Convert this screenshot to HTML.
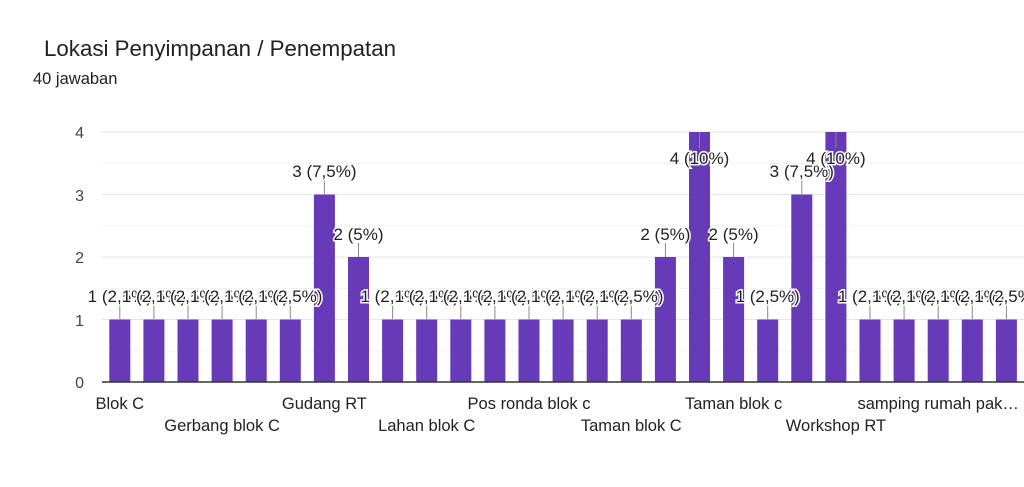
<!DOCTYPE html>
<html><head><meta charset="utf-8"><style>
html,body{margin:0;padding:0;background:#fff;width:1024px;height:487px;overflow:hidden}
svg text{font-family:"Liberation Sans",sans-serif}
.lb{font-size:17px;fill:#222;stroke:#fff;stroke-width:3px;paint-order:stroke;text-anchor:middle}
.xl{font-size:16.5px;fill:#222;text-anchor:middle}
.yl{font-size:16px;fill:#444;text-anchor:end}
</style></head><body>
<svg width="1024" height="487" xmlns="http://www.w3.org/2000/svg">
<text x="44" y="56" style="font-size:22.3px;fill:#202124">Lokasi Penyimpanan / Penempatan</text>
<text x="33" y="84" style="font-size:16.5px;fill:#202124">40 jawaban</text>
<g stroke="#f3f3f3" stroke-width="1">
<line x1="102" y1="163.5" x2="1024" y2="163.5"/><line x1="102" y1="226" x2="1024" y2="226"/><line x1="102" y1="288.5" x2="1024" y2="288.5"/><line x1="102" y1="351" x2="1024" y2="351"/>
</g>
<g stroke="#e6e6e6" stroke-width="1">
<line x1="102" y1="132" x2="1024" y2="132"/><line x1="102" y1="194.5" x2="1024" y2="194.5"/><line x1="102" y1="257" x2="1024" y2="257"/><line x1="102" y1="319.5" x2="1024" y2="319.5"/>
</g>
<g class="yl">
<text x="84" y="138">4</text><text x="84" y="201">3</text><text x="84" y="263">2</text><text x="84" y="326">1</text><text x="84" y="388">0</text>
</g>
<g fill="#673ab7">
<rect x="109.3" y="319.5" width="21" height="62.5"/>
<rect x="143.4" y="319.5" width="21" height="62.5"/>
<rect x="177.5" y="319.5" width="21" height="62.5"/>
<rect x="211.6" y="319.5" width="21" height="62.5"/>
<rect x="245.7" y="319.5" width="21" height="62.5"/>
<rect x="279.8" y="319.5" width="21" height="62.5"/>
<rect x="313.9" y="194.5" width="21" height="187.5"/>
<rect x="348" y="257" width="21" height="125"/>
<rect x="382.1" y="319.5" width="21" height="62.5"/>
<rect x="416.2" y="319.5" width="21" height="62.5"/>
<rect x="450.3" y="319.5" width="21" height="62.5"/>
<rect x="484.4" y="319.5" width="21" height="62.5"/>
<rect x="518.5" y="319.5" width="21" height="62.5"/>
<rect x="552.6" y="319.5" width="21" height="62.5"/>
<rect x="586.7" y="319.5" width="21" height="62.5"/>
<rect x="620.8" y="319.5" width="21" height="62.5"/>
<rect x="654.9" y="257" width="21" height="125"/>
<rect x="689" y="132" width="21" height="250"/>
<rect x="723.1" y="257" width="21" height="125"/>
<rect x="757.2" y="319.5" width="21" height="62.5"/>
<rect x="791.3" y="194.5" width="21" height="187.5"/>
<rect x="825.4" y="132" width="21" height="250"/>
<rect x="859.5" y="319.5" width="21" height="62.5"/>
<rect x="893.6" y="319.5" width="21" height="62.5"/>
<rect x="927.7" y="319.5" width="21" height="62.5"/>
<rect x="961.8" y="319.5" width="21" height="62.5"/>
<rect x="995.9" y="319.5" width="21" height="62.5"/>
</g>
<line x1="102" y1="382" x2="1024" y2="382" stroke="#333" stroke-width="1.5"/>
<g stroke="#888" stroke-width="1">
<line x1="119.8" y1="319" x2="119.8" y2="304"/><line x1="153.9" y1="319" x2="153.9" y2="304"/><line x1="188" y1="319" x2="188" y2="304"/><line x1="222.1" y1="319" x2="222.1" y2="304"/><line x1="256.2" y1="319" x2="256.2" y2="304"/><line x1="290.3" y1="319" x2="290.3" y2="304"/>
<line x1="324.4" y1="194" x2="324.4" y2="180"/><line x1="358.5" y1="257" x2="358.5" y2="243"/>
<line x1="392.6" y1="319" x2="392.6" y2="304"/><line x1="426.7" y1="319" x2="426.7" y2="304"/><line x1="460.8" y1="319" x2="460.8" y2="304"/><line x1="494.9" y1="319" x2="494.9" y2="304"/><line x1="529" y1="319" x2="529" y2="304"/><line x1="563.1" y1="319" x2="563.1" y2="304"/><line x1="597.2" y1="319" x2="597.2" y2="304"/><line x1="631.3" y1="319" x2="631.3" y2="304"/>
<line x1="665.4" y1="257" x2="665.4" y2="243"/><line x1="699.5" y1="132" x2="699.5" y2="148"/><line x1="733.6" y1="257" x2="733.6" y2="243"/><line x1="767.7" y1="319" x2="767.7" y2="304"/><line x1="801.8" y1="194" x2="801.8" y2="180"/><line x1="835.9" y1="132" x2="835.9" y2="148"/>
<line x1="870" y1="319" x2="870" y2="304"/><line x1="904.1" y1="319" x2="904.1" y2="304"/><line x1="938.2" y1="319" x2="938.2" y2="304"/><line x1="972.3" y1="319" x2="972.3" y2="304"/><line x1="1006.4" y1="319" x2="1006.4" y2="304"/>
</g>
<g class="lb">
<text x="119.8" y="302">1 (2,5%)</text><text x="153.9" y="302">1 (2,5%)</text><text x="188" y="302">1 (2,5%)</text><text x="222.1" y="302">1 (2,5%)</text><text x="256.2" y="302">1 (2,5%)</text><text x="290.3" y="302">1 (2,5%)</text>
<text x="324.4" y="177">3 (7,5%)</text><text x="358.5" y="240">2 (5%)</text>
<text x="392.6" y="302">1 (2,5%)</text><text x="426.7" y="302">1 (2,5%)</text><text x="460.8" y="302">1 (2,5%)</text><text x="494.9" y="302">1 (2,5%)</text><text x="529" y="302">1 (2,5%)</text><text x="563.1" y="302">1 (2,5%)</text><text x="597.2" y="302">1 (2,5%)</text><text x="631.3" y="302">1 (2,5%)</text>
<text x="665.4" y="240">2 (5%)</text><text x="699.5" y="164">4 (10%)</text><text x="733.6" y="240">2 (5%)</text><text x="767.7" y="302">1 (2,5%)</text><text x="801.8" y="177">3 (7,5%)</text><text x="835.9" y="164">4 (10%)</text>
<text x="870" y="302">1 (2,5%)</text><text x="904.1" y="302">1 (2,5%)</text><text x="938.2" y="302">1 (2,5%)</text><text x="972.3" y="302">1 (2,5%)</text><text x="1006.4" y="302">1 (2,5%)</text>
</g>
<g class="xl">
<text x="119.8" y="409">Blok C</text>
<text x="222.1" y="431">Gerbang blok C</text>
<text x="324.4" y="409">Gudang RT</text>
<text x="426.7" y="431">Lahan blok C</text>
<text x="529" y="409">Pos ronda blok c</text>
<text x="631.3" y="431">Taman blok C</text>
<text x="733.6" y="409">Taman blok c</text>
<text x="835.9" y="431">Workshop RT</text>
<text x="938.2" y="409">samping rumah pak…</text>
</g>
</svg>
</body></html>
